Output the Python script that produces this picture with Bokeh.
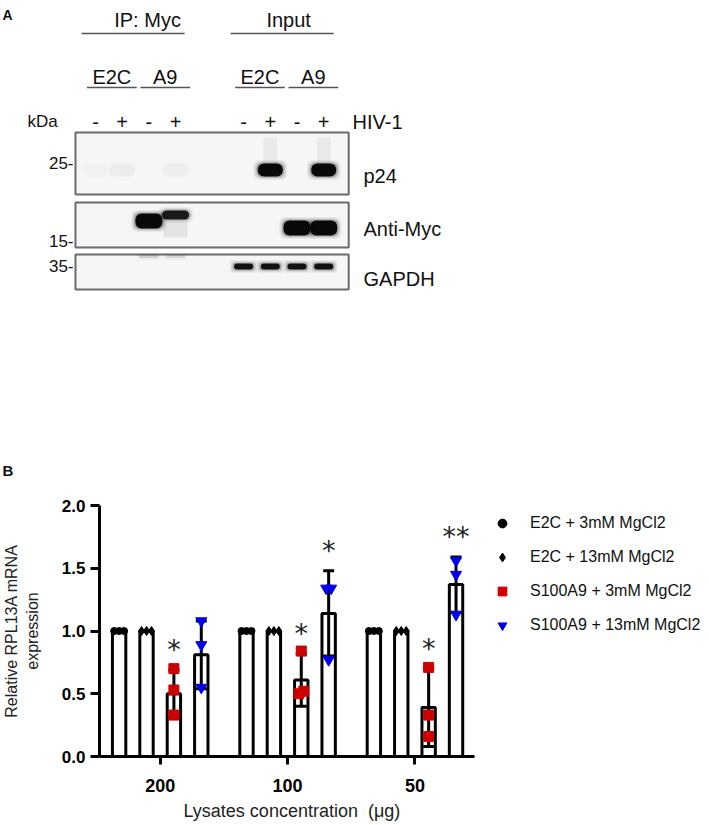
import numpy as np
from bokeh.plotting import figure
from bokeh.models import Range1d, FixedTicker, PrintfTickFormatter, Legend, LegendItem, Title
from bokeh.core.properties import value
from bokeh.embed import file_html
from bokeh.resources import INLINE

FONT = "Liberation Sans"

# ================= Panel A data (western blot) =================
ip_groups = ["IP: Myc", "Input"]
cell_lines = ["E2C", "A9", "E2C", "A9"]
hiv_status = ["-", "+", "-", "+", "-", "+", "-", "+"]
blot_labels = ["p24", "Anti-Myc", "GAPDH"]
kda_markers = ["25-", "15-", "35-"]
p24_signal = [0.015, 0.03, 0.0, 0.025, 0.0, 1.0, 0.0, 1.0]
myc_signal = [0.0, 0.0, 1.0, 0.9, 0.0, 0.0, 1.0, 1.0]
gapdh_signal = [0.0, 0.0, 0.12, 0.10, 0.95, 0.95, 0.95, 0.95]

# ================= Panel B data (RT-qPCR) =================
concentrations = ["200", "100", "50"]
x_title = "Lysates concentration\u00a0 (\u03bcg)"
series_labels = ["E2C + 3mM MgCl2", "E2C + 13mM MgCl2",
                 "S100A9 + 3mM MgCl2", "S100A9 + 13mM MgCl2"]
e2c_3_mean = [1.0, 1.0, 1.0]
e2c_13_mean = [1.0, 1.0, 1.0]
a9_3_mean = [0.50, 0.61, 0.39]
a9_13_mean = [0.81, 1.14, 1.37]
e2c_3_sd = [0.0, 0.0, 0.0]
e2c_13_sd = [0.0, 0.0, 0.0]
a9_3_sd = [0.19, 0.21, 0.31]
a9_13_sd = [0.27, 0.34, 0.22]
e2c_3_pts = [[1.0, 1.0, 1.0], [1.0, 1.0, 1.0], [1.0, 1.0, 1.0]]
e2c_13_pts = [[1.0, 1.0, 1.0], [1.0, 1.0, 1.0], [1.0, 1.0, 1.0]]
a9_3_pts = [[0.70, 0.53, 0.33], [0.84, 0.52, 0.50], [0.71, 0.33, 0.16]]
a9_13_pts = [[1.08, 0.89, 0.55], [1.34, 1.34, 0.77], [1.56, 1.45, 1.13]]
e2c_3_sig = ["", "", ""]
e2c_13_sig = ["", "", ""]
a9_3_sig = ["*", "*", "*"]
a9_13_sig = ["", "*", "**"]

# ================= layout =================
W = 709
HA = 478
HB = 347
TXT = "#111111"


def txt(p, xs, ys, texts, size, align="center", bold=False, font=FONT, color=TXT):
    p.text(x=list(xs), y=list(ys), text=list(texts), text_font=value(font),
           text_font_size=f"{size}px", text_align=align, text_baseline="alphabetic",
           text_color=color, text_font_style="bold" if bold else "normal")


# ---------------- Panel A ----------------
pA = figure(width=W, height=HA, x_range=Range1d(0, W), y_range=Range1d(HA, 0),
            min_border=0, x_axis_location=None, y_axis_location=None,
            output_backend="svg", toolbar_location=None)
pA.grid.visible = False
pA.outline_line_color = None

LANE0, LANE_STEP, GROUP_GAP = 95, 26.7, 41.3
lane_x = np.array([LANE0 + LANE_STEP * i + (GROUP_GAP if i >= 4 else 0) for i in range(8)])

txt(pA, [2], [14], ["A"], 14, align="left", bold=True)
txt(pA, [2], [470], ["B"], 15, align="left", bold=True)

# group headers
gx = [lane_x[0:4].mean() + 12, lane_x[4:8].mean() + 5]
txt(pA, gx, [19, 19], ip_groups, 20)
pA.segment(x0=[lane_x[0] - 14, lane_x[4] - 13], x1=[lane_x[3] + 9, lane_x[7] + 10],
           y0=[33, 33], y1=[33, 33], line_width=1.6, line_color="#555555")
# cell line headers
cx = [(lane_x[2 * k] + lane_x[2 * k + 1]) / 2 + 3 for k in range(4)]
txt(pA, cx, [76] * 4, cell_lines, 20)
pA.segment(x0=[lane_x[2 * k] - 11.5 + 3 for k in range(4)],
           x1=[lane_x[2 * k + 1] + 11.5 + 3 for k in range(4)],
           y0=[87] * 4, y1=[87] * 4, line_width=1.6, line_color="#555555")
# HIV status row
txt(pA, lane_x, [121] * 8, hiv_status, 20)
txt(pA, [42], [121], ["kDa"], 17)
txt(pA, [352], [121], ["HIV-1"], 20, align="left")

# blot boxes
row_top = [132, 202, 254]
row_bot = [194, 247, 289]
box_l = lane_x[0] - 20
box_r = lane_x[7] + 25
pA.quad(left=[box_l] * 3, right=[box_r] * 3, top=row_top, bottom=row_bot,
        fill_color="#f6f6f6", line_color="#6b6b6b", line_width=2)
txt(pA, [73] * 3, [162, 240, 265], kda_markers, 17, align="right")
txt(pA, [363] * 3, [175, 228, 278], blot_labels, 20, align="left")


def bands(signal, yc, h, w, radius):
    s = np.asarray(signal, dtype=float)
    h = np.asarray(h, dtype=float)
    for gw, gh, a in [(9, 7, 0.05), (6, 4.5, 0.10), (3, 2, 0.22), (0, 0, 0.95)]:
        pA.rect(x=lane_x, y=yc, width=w + gw, height=h + gh, fill_color="black",
                fill_alpha=np.clip(s * a, 0, 1), line_color=None, border_radius=radius)


# faint smears
pA.rect(x=lane_x, y=[150] * 8, width=14, height=26, fill_color="black",
        fill_alpha=np.asarray(p24_signal) * 0.05, line_color=None)
pA.rect(x=lane_x, y=[229] * 8, width=24, height=16, fill_color="black",
        fill_alpha=np.array([0, 0, 0, 0.08, 0, 0, 0, 0]) * np.asarray(myc_signal), line_color=None)

bands(p24_signal, [169.5] * 8, [13] * 8, 25, 6)
bands(myc_signal, [220.5, 220.5, 220.5, 214.5, 227.5, 227.5, 227.5, 227.5],
      [15, 15, 15, 9, 15, 15, 15, 15], 27, 6)
bands(gapdh_signal, [266, 266, 256, 256, 266, 266, 266, 266],
      [6, 6, 3, 3, 6, 6, 6, 6], 19, 3)

# ---------------- Panel B ----------------
PX_PER_UNIT = 128.0
FL = 96          # frame left (px)
FW = W - FL      # frame extends to the right edge (legend lives inside)
X0 = -0.4766
X_AXIS_END = 2.4687
BAR_STEP = 0.215
BAR_W = 0.105
RED = "#CC0000"
BLUE = "#0000EE"

pB = figure(width=W, height=HB, x_range=Range1d(X0, X0 + FW / PX_PER_UNIT),
            y_range=Range1d(0, 2.0), min_border_left=FL, min_border_right=0,
            min_border_top=27, min_border_bottom=69,
            output_backend="svg", toolbar_location=None)
pB.grid.visible = False
pB.outline_line_color = None

means = [e2c_3_mean, e2c_13_mean, a9_3_mean, a9_13_mean]
sds = [e2c_3_sd, e2c_13_sd, a9_3_sd, a9_13_sd]
pts = [e2c_3_pts, e2c_13_pts, a9_3_pts, a9_13_pts]
sigs = [e2c_3_sig, e2c_13_sig, a9_3_sig, a9_13_sig]
mk = [("circle", "black", 7), ("diamond", "black", 9),
      ("square", RED, 10), ("inverted_triangle", BLUE, 11)]


def spread(vals, px=5.0, tol=0.05):
    order = np.argsort(vals)
    offs = np.zeros(len(vals))
    clusters, cur = [], [order[0]]
    for i in order[1:]:
        if abs(vals[i] - vals[cur[-1]]) < tol:
            cur.append(i)
        else:
            clusters.append(cur)
            cur = [i]
    clusters.append(cur)
    for c in clusters:
        m = len(c)
        for k, i in enumerate(c):
            offs[i] = (k - (m - 1) / 2) * px / PX_PER_UNIT
    return offs


group_x = np.arange(len(concentrations), dtype=float)
point_renderers = []
for j in range(4):
    xs = group_x + (j - 1.5) * BAR_STEP
    m = np.asarray(means[j])
    sd = np.asarray(sds[j])
    pB.vbar(x=xs, top=m, bottom=0, width=BAR_W, fill_color="white",
            line_color="black", line_width=3)
    has = sd > 0
    if has.any():
        pB.segment(x0=xs[has], x1=xs[has], y0=(m - sd)[has], y1=(m + sd)[has],
                   line_color="black", line_width=3)
        pB.scatter(x=np.concatenate([xs[has], xs[has]]),
                   y=np.concatenate([(m + sd)[has], (m - sd)[has]]),
                   marker="dash", size=11, line_color="black", line_width=3)

for j in range(4):
    xs = group_x + (j - 1.5) * BAR_STEP
    px, py = [], []
    for g in range(len(concentrations)):
        v = np.asarray(pts[j][g], dtype=float)
        off = spread(v)
        px.extend(xs[g] + off)
        py.extend(v)
    marker, color, size = mk[j]
    r = pB.scatter(x=px, y=py, marker=marker, size=size, fill_color=color,
                   line_color=color, line_width=1)
    point_renderers.append(r)

for j in range(4):
    xs = group_x + (j - 1.5) * BAR_STEP
    top = np.asarray(means[j]) + np.asarray(sds[j])
    pB.text(x=xs, y=top, text=sigs[j], text_font=value("DejaVu Sans"),
            text_font_size="27px", text_align="center", text_baseline="alphabetic",
            y_offset=-20, text_color="#222222")

legend = Legend(items=[LegendItem(label=s, renderers=[r]) for s, r in zip(series_labels, point_renderers)],
                location=(392, 120), orientation="vertical",
                glyph_width=22, glyph_height=22, label_height=22, spacing=12,
                padding=0, margin=0, label_standoff=17,
                border_line_color=None, background_fill_alpha=0,
                label_text_font=FONT, label_text_font_size="16px", label_text_color=TXT)
pB.add_layout(legend)

pB.xaxis.ticker = FixedTicker(ticks=list(group_x))
pB.xaxis.major_label_overrides = {int(i): c for i, c in zip(group_x, concentrations)}
pB.xaxis.bounds = (X0, X_AXIS_END)
pB.yaxis.ticker = FixedTicker(ticks=[0, 0.5, 1.0, 1.5, 2.0])
pB.yaxis.formatter = PrintfTickFormatter(format="%.1f")
for ax in (pB.xaxis[0], pB.yaxis[0]):
    ax.axis_line_width = 3
    ax.axis_line_color = "black"
    ax.major_tick_line_width = 3
    ax.major_tick_line_color = "black"
    ax.major_tick_in = 0
    ax.minor_tick_line_color = None
    ax.major_label_text_font = FONT
    ax.major_label_text_font_style = "bold"
    ax.major_label_text_color = "black"
    ax.axis_label_text_font = FONT
    ax.axis_label_text_font_style = "normal"
    ax.axis_label_text_color = "#222222"

pB.xaxis.major_tick_out = 8
pB.xaxis.major_label_text_font_size = "18px"
pB.xaxis.major_label_standoff = 14

pB.yaxis.major_tick_out = 9
pB.yaxis.major_label_text_font_size = "17px"
pB.yaxis.major_label_standoff = 5
pB.yaxis.axis_label = "Relative RPL13A mRNA\nexpression"
pB.yaxis.axis_label_text_font_size = "16px"
pB.yaxis.axis_label_standoff = 18

# x-axis title, left-anchored so that it sits centred under the bounded axis
pB.add_layout(Title(text=x_title, align="left", offset=84, standoff=9,
                    text_font=FONT, text_font_size="18px", text_font_style="normal",
                    text_color="#222222"), "below")

open("out.html", "w").write(file_html([pA, pB], INLINE))
